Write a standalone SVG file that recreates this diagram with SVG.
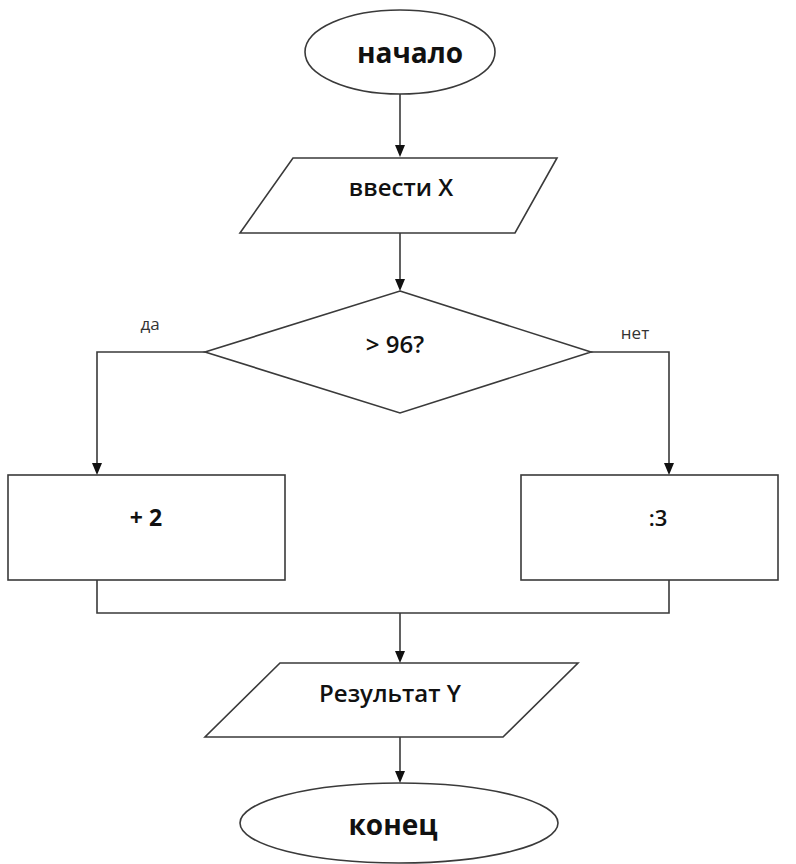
<svg xmlns="http://www.w3.org/2000/svg" width="796" height="864" viewBox="0 0 796 864">
<style>
.shape{fill:#fff;stroke:#3a3a3a;stroke-width:1.6}
.conn{fill:none;stroke:#3a3a3a;stroke-width:1.6}
.head{fill:#111}
.t{font-family:"Open Sans","Liberation Sans",sans-serif;fill:#111;text-anchor:middle}
.b{font-weight:700}
.s{font-weight:600}
.lbl{font-family:"Open Sans","Liberation Sans",sans-serif;fill:#333;font-size:17px;text-anchor:middle}
</style>
<rect width="796" height="864" fill="#fff"/>
<g id="connectors">
<path class="conn" d="M400,94 V145"/>
<path class="head" d="M395,145 L405,145 L400,157 Z"/>
<path class="conn" d="M400,233 V279"/>
<path class="head" d="M395,279 L405,279 L400,291 Z"/>
<path class="conn" d="M205,352 H97 V463"/>
<path class="head" d="M92,463 L102,463 L97,475 Z"/>
<path class="conn" d="M591,352 H669 V463"/>
<path class="head" d="M664,463 L674,463 L669,475 Z"/>
<path class="conn" d="M97,580 V613 H669 V580"/>
<path class="conn" d="M400,613 V651"/>
<path class="head" d="M395,651 L405,651 L400,663 Z"/>
<path class="conn" d="M400,737 V771"/>
<path class="head" d="M395,771 L405,771 L400,783 Z"/>
</g>
<g id="start">
<ellipse class="shape" cx="400" cy="52" rx="95" ry="42"/>
<text class="t b" x="410" y="63" font-size="28">начало</text>
</g>
<g id="input">
<polygon class="shape" points="293,158 557,158 515,233 240,233"/>
<text class="t s" x="401" y="196" font-size="24">ввести X</text>
</g>
<g id="decision">
<polygon class="shape" points="400,291 591,352 400,413 205,352"/>
<text class="t s" x="395" y="353" font-size="24">&gt; 96?</text>
</g>
<text class="lbl" x="150" y="330">да</text>
<text class="lbl" x="635" y="339">нет</text>
<g id="plus2">
<rect class="shape" x="8" y="475" width="277" height="105"/>
<text class="t b" x="146" y="526" font-size="23">+ 2</text>
</g>
<g id="div3">
<rect class="shape" x="521" y="475" width="257" height="105"/>
<text class="t s" x="658" y="526" font-size="22">:3</text>
</g>
<g id="output">
<polygon class="shape" points="280,663 578,663 503,737 205,737"/>
<text class="t s" x="390" y="702" font-size="24">Результат Y</text>
</g>
<g id="end">
<ellipse class="shape" cx="399" cy="823" rx="159" ry="40"/>
<text class="t b" x="393" y="835" font-size="28">конец</text>
</g>
</svg>
